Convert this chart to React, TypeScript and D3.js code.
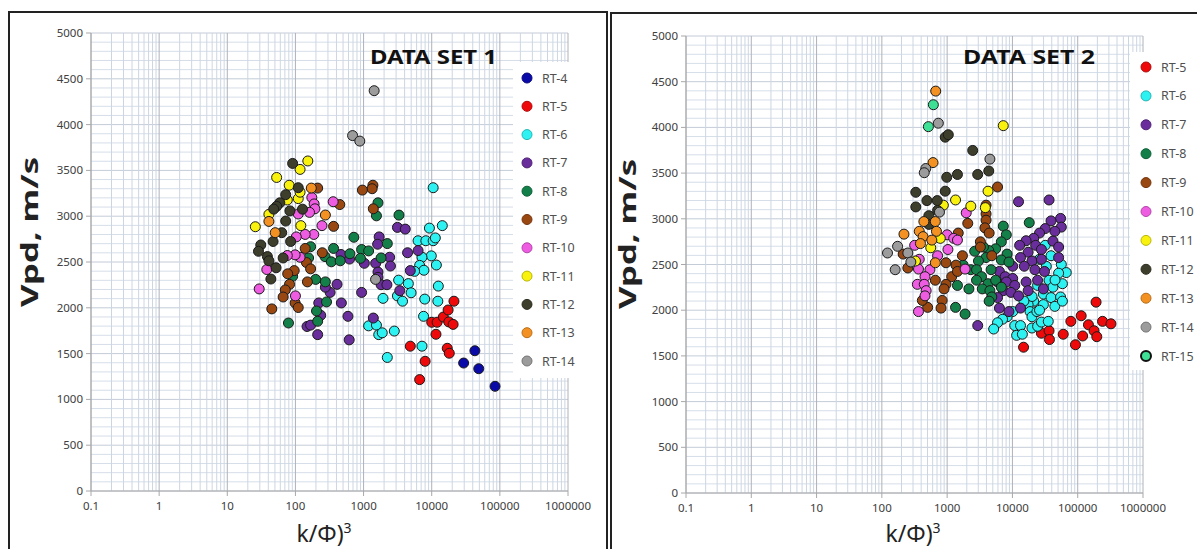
import React from "react";
import * as d3 from "d3";

type P = [number, number];

// ---------- Series labels / colors ----------
const seriesNames1 = ["RT-4", "RT-5", "RT-6", "RT-7", "RT-8", "RT-9", "RT-10", "RT-11", "RT-12", "RT-13", "RT-14"];
const seriesNames2 = ["RT-5", "RT-6", "RT-7", "RT-8", "RT-9", "RT-10", "RT-11", "RT-12", "RT-13", "RT-14", "RT-15"];
const colorOf: Record<string, string> = {
  "RT-4": "#0a0aa8",
  "RT-5": "#ee0a0a",
  "RT-6": "#2ef2f2",
  "RT-7": "#6a2e9c",
  "RT-8": "#13804a",
  "RT-9": "#9a4812",
  "RT-10": "#ee5ce2",
  "RT-11": "#f8f20e",
  "RT-12": "#3e3e2c",
  "RT-13": "#f39222",
  "RT-14": "#9c9c9c",
  "RT-15": "#3ee096",
};

// ---------- Axis ticks ----------
const yTicks = [0, 500, 1000, 1500, 2000, 2500, 3000, 3500, 4000, 4500, 5000];
const xTickLabels = ["0.1", "1", "10", "100", "1000", "10000", "100000", "1000000"];

// ---------- DATA SET 1 ----------
const ds1_RT4: P[] = [[29400, 1397], [43000, 1531], [49000, 1335], [85000, 1143]];
const ds1_RT5: P[] = [[4850, 1581], [6650, 1216], [8000, 1416], [10000, 1842], [12000, 1842], [11550, 1711], [14800, 1899], [17400, 1976], [17800, 1846], [21200, 2072], [20600, 1819], [16900, 1558], [18100, 1504]];
const ds1_RT6: P[] = [[10500, 3311], [14300, 2897], [9250, 2870], [6300, 2732], [8200, 2732], [10500, 2732], [11300, 2763], [9860, 2567], [7200, 2552], [6650, 2463], [11700, 2467], [7690, 2410], [5600, 2398], [3270, 2302], [4540, 2264], [12500, 2237], [4980, 2164], [3140, 2130], [3730, 2072], [7900, 2095], [12300, 2072], [1930, 2103], [7590, 1907], [1186, 1803], [1545, 1811], [1670, 1707], [1880, 1727], [2826, 1746], [7200, 1581], [2230, 1458]];
const ds1_RT7: P[] = [[3140, 2878], [4090, 2859], [1693, 2774], [1607, 2694], [6310, 2625], [4420, 2601], [2415, 2552], [2480, 2456], [1504, 2486], [1026, 2486], [622, 2532], [466, 2582], [1627, 2390], [1627, 2333], [4850, 2406], [1807, 2252], [2200, 2252], [3400, 2187], [936, 2168], [408, 2256], [323, 2168], [275, 2225], [220, 2053], [472, 2053], [235, 1918], [590, 1907], [1390, 1888], [148, 1796], [167, 1811], [212, 1707], [615, 1650]];
const ds1_RT8: P[] = [[3310, 3012], [1627, 3146], [1545, 3004], [720, 2770], [2230, 2701], [936, 2636], [1186, 2621], [363, 2648], [630, 2590], [900, 2540], [1807, 2544], [272, 2559], [336, 2502], [454, 2513], [167, 2667], [156, 2544], [198, 2310], [275, 2283], [91, 2344], [286, 2064], [204, 1965], [212, 1853], [79, 1834]];
const ds1_RT9: P[] = [[1371, 3338], [1336, 3300], [961, 3285], [1390, 3081], [448, 3127], [363, 2889], [248, 2601], [212, 3307], [139, 2648], [145, 2494], [167, 2425], [96, 2406], [150, 2283], [82, 2256], [71, 2195], [66, 2118], [99, 2053], [110, 2003], [45, 1988], [77, 2371]];
const ds1_RT10: P[] = [[174, 3204], [188, 3134], [193, 3081], [161, 3042], [110, 3024], [358, 3158], [245, 2897], [186, 2801], [139, 2801], [103, 2774], [117, 2552], [99, 2578], [76, 2571], [38, 2418], [29.4, 2206], [100, 2130]];
const ds1_RT11: P[] = [[25.8, 2885], [40.8, 3020], [53, 3423], [81, 3338], [117, 3511], [152, 3603], [76, 3177], [110, 3192], [117, 3262], [120, 2897]];
const ds1_RT12: P[] = [[91, 3576], [110, 3311], [72, 3235], [59, 3146], [53, 3108], [48, 3077], [83, 3058], [127, 3077], [72, 2947], [63, 2820], [85, 2724], [47, 2724], [31, 2686], [28.7, 2617], [38.8, 2559], [40.8, 2513], [66, 2544], [52, 2437], [43.6, 2314]];
const ds1_RT13: P[] = [[50.5, 2820], [40.8, 2943], [171, 3307], [275, 3013]];
const ds1_RT14: P[] = [[1430, 4370], [690, 3880], [880, 3820], [1500, 2310]];

// ---------- DATA SET 2 ----------
const ds2_RT5: P[] = [[14800, 1595], [27800, 1748], [36400, 1775], [36900, 1679], [60000, 1737], [78500, 1878], [92300, 1622], [113000, 1939], [119000, 1718], [146000, 1840], [178000, 1775], [191000, 2088], [196000, 1710], [240000, 1878], [323000, 1851]];
const ds2_RT6: P[] = [[31800, 2710], [26000, 2557], [39000, 2596], [56100, 2500], [66800, 2412], [51000, 2405], [36400, 2328], [41700, 2252], [58300, 2290], [24300, 2271], [29800, 2176], [39000, 2138], [54600, 2145], [21200, 2099], [29800, 2061], [44600, 2042], [58300, 2099], [17400, 2061], [18600, 1985], [10100, 1985], [8280, 1928], [7050, 1901], [5915, 1863], [5160, 1794], [10850, 1832], [13300, 1832], [11600, 1725], [14200, 1737], [19900, 1928], [19900, 1805], [24300, 1824], [27800, 1870], [35400, 1878], [23700, 1985], [33000, 2480], [45000, 2330], [20000, 2150], [15000, 2100], [26000, 2000]];
const ds2_RT7: P[] = [[12400, 3187], [36400, 3206], [54600, 3004], [56100, 2909], [39000, 2977], [44600, 2863], [41700, 2756], [31800, 2893], [26000, 2844], [21200, 2786], [16200, 2760], [12900, 2710], [22700, 2710], [27800, 2664], [17400, 2634], [13300, 2576], [19900, 2538], [27800, 2557], [51000, 2576], [10100, 2481], [15200, 2481], [22100, 2443], [31000, 2424], [6320, 2424], [7740, 2367], [10100, 2347], [5915, 2309], [8060, 2309], [10850, 2271], [16200, 2309], [24300, 2328], [7240, 2214], [9480, 2195], [12400, 2157], [5915, 2138], [17400, 2214], [29800, 2233], [6320, 2023], [8850, 1985], [13300, 2023], [2940, 1832], [51000, 2691]];
const ds2_RT8: P[] = [[7240, 2920], [8060, 2825], [18100, 2958], [6760, 2748], [5530, 2672], [4340, 2653], [3600, 2691], [2640, 2645], [3945, 2576], [3020, 2538], [8280, 2614], [6760, 2550], [8850, 2527], [2305, 2443], [2820, 2443], [4710, 2443], [3360, 2367], [2820, 2328], [4230, 2290], [5530, 2328], [6760, 2252], [3450, 2233], [4520, 2214], [4830, 2145], [4400, 2099], [2155, 2233], [1438, 2271], [1345, 2031], [1884, 1958], [1760, 2493]];
const ds2_RT9: P[] = [[5915, 3348], [3945, 3149], [3945, 3054], [3945, 2985], [3790, 2901], [2070, 2950], [3230, 2748], [3230, 2691], [4400, 2844], [4830, 2596], [1714, 2596], [1479, 2844], [1365, 2493], [960, 2519], [1175, 2367], [960, 2283], [897, 2233], [839, 2107], [806, 2023], [659, 2328], [503, 2031], [417, 2107], [250, 2462], [212, 2614], [1438, 2424]];
const ds2_RT10: P[] = [[1960, 3065], [1000, 2825], [1260, 2786], [1438, 2767], [1028, 2664], [714, 2596], [1884, 2450], [318, 2710], [374, 2557], [364, 2450], [545, 2443], [458, 2367], [350, 2283], [446, 2283], [477, 2214], [458, 2157], [364, 1985]];
const ds2_RT11: P[] = [[7240, 4019], [4230, 3302], [1345, 3206], [2305, 3138], [3845, 3122], [875, 3149], [785, 2786], [561, 2683], [327, 2538]];
const ds2_RT12: P[] = [[935, 3893], [1042, 3920], [2465, 3748], [2937, 3485], [1438, 3485], [986, 3454], [4340, 3523], [331, 3290], [490, 3199], [331, 3130], [705, 3199], [935, 3302], [524, 3034], [714, 3092], [524, 2939]];
const ds2_RT13: P[] = [[668, 4397], [608, 3615], [440, 2970], [659, 2970], [374, 2863], [686, 2863], [428, 2805], [390, 2729], [583, 2767], [659, 2519], [218, 2832]];
const ds2_RT14: P[] = [[733, 4046], [4520, 3653], [471, 3550], [446, 3504], [122, 2626], [174, 2699], [250, 2626], [160, 2443], [278, 2527], [763, 3073]];
const ds2_RT15: P[] = [[615, 4248], [516, 4008]];

const set1: [string, P[]][] = [
  ["RT-4", ds1_RT4], ["RT-5", ds1_RT5], ["RT-6", ds1_RT6], ["RT-7", ds1_RT7], ["RT-8", ds1_RT8],
  ["RT-9", ds1_RT9], ["RT-10", ds1_RT10], ["RT-11", ds1_RT11], ["RT-12", ds1_RT12], ["RT-13", ds1_RT13], ["RT-14", ds1_RT14],
];
const set2: [string, P[]][] = [
  ["RT-5", ds2_RT5], ["RT-6", ds2_RT6], ["RT-7", ds2_RT7], ["RT-8", ds2_RT8], ["RT-9", ds2_RT9],
  ["RT-10", ds2_RT10], ["RT-11", ds2_RT11], ["RT-12", ds2_RT12], ["RT-13", ds2_RT13], ["RT-14", ds2_RT14], ["RT-15", ds2_RT15],
];

const FONT = "'Noto Sans', 'Open Sans', sans-serif";

interface PanelProps {
  title: string;
  series: [string, P[]][];
  names: string[];
  x0: number; x1: number; y0: number; y1: number;
  titleX: number; titleLen: number;
  legX: number; legY: number; legStep: number; legBox: [number, number, number, number];
  yTitleX: number; yTitleY: number; xTitleX: number;
}

function Panel(p: PanelProps) {
  const x = d3.scaleLog().domain([0.1, 1e6]).range([p.x0, p.x1]);
  const y = d3.scaleLinear().domain([0, 5000]).range([p.y1, p.y0]);
  const minorX: number[] = [];
  for (let k = -1; k <= 5; k++) for (let m = 2; m <= 9; m++) minorX.push(m * Math.pow(10, k));
  const majorX = xTickLabels.map(Number);
  const hLines = d3.range(0, 5001, 100);
  return (
    <g>
      {hLines.map((v) => (
        <line key={"h" + v} x1={p.x0} x2={p.x1} y1={y(v)} y2={y(v)} stroke={v % 500 === 0 ? "#c4ccd8" : "#d6dee9"} strokeWidth={1} />
      ))}
      {minorX.map((v) => (
        <line key={"mx" + v} x1={x(v)} x2={x(v)} y1={p.y0} y2={p.y1} stroke="#ccd6e2" strokeWidth={1} />
      ))}
      {majorX.map((v) => (
        <line key={"Mx" + v} x1={x(v)} x2={x(v)} y1={p.y0} y2={p.y1} stroke="#aeb2ba" strokeWidth={1} />
      ))}
      <line x1={p.x0} x2={p.x0} y1={p.y0} y2={p.y1} stroke="#a8a8a8" />
      <line x1={p.x0} x2={p.x1} y1={p.y1} y2={p.y1} stroke="#a8a8a8" />
      {yTicks.map((v) => (
        <g key={"yt" + v}>
          <line x1={p.x0 - 5} x2={p.x0} y1={y(v)} y2={y(v)} stroke="#a8a8a8" />
          <text x={p.x0 - 8} y={y(v)} dy="0.35em" textAnchor="end" fontSize={11.5} fill="#404040" fontFamily={FONT}>{v}</text>
        </g>
      ))}
      {majorX.map((v, i) => (
        <g key={"xt" + v}>
          <line x1={x(v)} x2={x(v)} y1={p.y1} y2={p.y1 + 5} stroke="#a8a8a8" />
          <text x={x(v)} y={p.y1 + 19} textAnchor="middle" fontSize={11.5} fill="#404040" fontFamily={FONT}>{xTickLabels[i]}</text>
        </g>
      ))}
      <text x={p.titleX} y={64} fontSize={20} fontWeight="bold" fill="#111" fontFamily={FONT} textLength={p.titleLen} lengthAdjust="spacingAndGlyphs">{p.title}</text>
      {p.series.map(([name, pts]) => (
        <g key={name}>
          {pts.map((d, i) => (
            <circle key={i} cx={x(d[0])} cy={y(d[1])} r={5} fill={colorOf[name]} stroke="#1a1a1a" strokeWidth={1} />
          ))}
        </g>
      ))}
      <rect x={p.legBox[0]} y={p.legBox[1]} width={p.legBox[2]} height={p.legBox[3]} fill="#ffffff" />
      {p.names.map((n, i) => (
        <g key={"lg" + n}>
          <circle cx={p.legX} cy={p.legY + i * p.legStep} r={5} fill={colorOf[n]}
            stroke={n === "RT-15" ? "#111" : (d3.color(colorOf[n]) as any).darker(0.8).toString()} strokeWidth={n === "RT-15" ? 2 : 1} />
          <text x={p.legX + 15} y={p.legY + i * p.legStep} dy="0.36em" fontSize={12.5} fill="#505050" fontFamily={FONT}>{n}</text>
        </g>
      ))}
      <text transform={`translate(${p.yTitleX},${p.yTitleY}) rotate(-90)`} textAnchor="middle" fontSize={24} fontWeight="bold" fill="#222" fontFamily={FONT} textLength={150} lengthAdjust="spacingAndGlyphs">Vpd, m/s</text>
      <text x={p.xTitleX} y={542} textAnchor="middle" fontSize={23} fill="#222" fontFamily={FONT}>k/Φ)<tspan fontSize={14} dy={-9}>3</tspan></text>
    </g>
  );
}

export default function App() {
  return (
    <svg width={1197} height={549} style={{ position: "absolute", left: 0, top: 0, background: "#fff" }} xmlns="http://www.w3.org/2000/svg">
      <rect x={0} y={0} width={1197} height={549} fill="#fff" />
      <Panel title="DATA SET 1" series={set1} names={seriesNames1}
        x0={91} x1={568} y0={33} y1={491} titleX={370} titleLen={127}
        legX={527} legY={78} legStep={28.3} legBox={[513, 62, 90, 316]}
        yTitleX={38} yTitleY={232} xTitleX={324} />
      <Panel title="DATA SET 2" series={set2} names={seriesNames2}
        x0={686} x1={1143} y0={36} y1={493} titleX={963} titleLen={132}
        legX={1146} legY={67} legStep={28.9} legBox={[1130, 52, 67, 318]}
        yTitleX={636} yTitleY={234} xTitleX={913} />
      {/* panel frames */}
      <path d="M9,549 L9,12 L607,12 L607,549" fill="none" stroke="#222" strokeWidth={2} />
      <path d="M611,549 L611,13 L1197,13" fill="none" stroke="#222" strokeWidth={2} />
    </svg>
  );
}
